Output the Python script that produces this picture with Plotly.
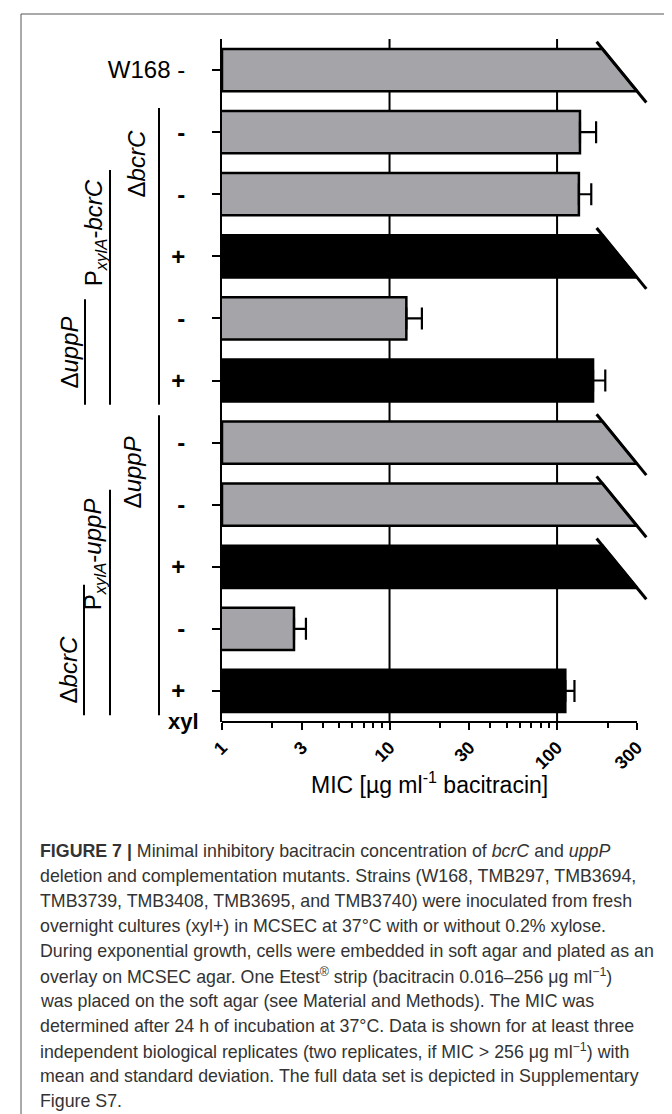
import numpy as np
import plotly.graph_objects as go

# ---------------- data ----------------
row_labels = ["W168 -", "<b>-</b>", "<b>-</b>", "<b>+</b>", "<b>-</b>", "<b>+</b>",
              "<b>-</b>", "<b>-</b>", "<b>+</b>", "<b>-</b>", "<b>+</b>"]
xylose = ["-", "-", "-", "+", "-", "+", "-", "-", "+", "-", "+"]
mic_mean = [300, 137, 135, 300, 12.6, 164, 300, 300, 300, 2.69, 112]   # 300 = axis cap (MIC > 256)
mic_sd = [0, 34, 25, 0, 3.0, 30, 0, 0, 0, 0.48, 15]
above_range = [True, False, False, True, False, False, True, True, True, False, False]
xtick_vals = [1, 3, 10, 30, 100, 300]
xtick_text = ["1", "3", "10", "30", "100", "300"]
minor_vals = [2, 4, 5, 6, 7, 8, 9, 20, 40, 50, 60, 70, 80, 90, 200]
grid_vals = [10, 100]

# genotype labels (text, first row, last row)
genotype_labels = [
    ("Δ<i>bcrC</i>", 1, 5),
    ("P<sub><i>xylA</i></sub>-<i>bcrC</i>", 2, 5),
    ("Δ<i>uppP</i>", 4, 5),
    ("Δ<i>uppP</i>", 6, 10),
    ("P<sub><i>xylA</i></sub>-<i>uppP</i>", 7, 10),
    ("Δ<i>bcrC</i>", 9, 10),
]

caption_lines = [
    "<b>FIGURE 7 |</b> Minimal inhibitory bacitracin concentration of <i>bcrC</i> and <i>uppP</i>",
    "deletion and complementation mutants. Strains (W168, TMB297, TMB3694,",
    "TMB3739, TMB3408, TMB3695, and TMB3740) were inoculated from fresh",
    "overnight cultures (xyl+) in MCSEC at 37°C with or without 0.2% xylose.",
    "During exponential growth, cells were embedded in soft agar and plated as an",
    "overlay on MCSEC agar. One Etest<sup>®</sup> strip (bacitracin 0.016–256 μg ml<sup>−1</sup>)",
    "was placed on the soft agar (see Material and Methods). The MIC was",
    "determined after 24 h of incubation at 37°C. Data is shown for at least three",
    "independent biological replicates (two replicates, if MIC > 256 μg ml<sup>−1</sup>) with",
    "mean and standard deviation. The full data set is depicted in Supplementary",
    "Figure S7.",
]

# ---------------- style / layout geometry ----------------
W, H = 672, 1114
PL, PR, PT, PB = 214, 645, 31, 714          # plot area in pixels
X300_PX = 629                               # pixel where the axis (x=300) ends
FONT = "Liberation Sans, Arial, sans-serif"
GRAY = "#a5a5a9"
BAR_W = 0.68
DIAG_DLOG = 0.206                            # log-width of the truncation diagonal
DIAG_T = (-0.17, 1.27)


def xp(px):
    return (px - PL) / (PR - PL)


def yp(py):
    return (PB - py) / (PB - PT)


x_range_max = np.log10(xtick_vals[-1]) * (PR - PL) / (X300_PX - PL)
n = len(mic_mean)
idx = list(range(n))
colors = [GRAY if x == "-" else "black" for x in xylose]

fig = go.Figure()

# normal bars with error bars
norm = [i for i in idx if not above_range[i]]
fig.add_trace(go.Bar(
    y=norm, x=[mic_mean[i] for i in norm], orientation="h", width=BAR_W,
    marker=dict(color=[colors[i] for i in norm], line=dict(color="black", width=2.5)),
    error_x=dict(type="data", symmetric=False, array=[mic_sd[i] for i in norm],
                 arrayminus=[0] * len(norm), color="black", thickness=2.2, width=11),
    hoverinfo="skip", showlegend=False,
))

# truncated bars (MIC above range)
hb = BAR_W / 2
for i in idx:
    if not above_range[i]:
        continue
    cap = mic_mean[i]
    x_top = 10 ** (np.log10(cap) - DIAG_DLOG)
    fig.add_trace(go.Scatter(
        x=[1, x_top, cap, 1, 1], y=[i - hb, i - hb, i + hb, i + hb, i - hb],
        mode="lines", fill="toself", fillcolor=colors[i],
        line=dict(color="black", width=2.5), hoverinfo="skip", showlegend=False,
    ))
    t = np.array(DIAG_T)
    fig.add_trace(go.Scatter(
        x=10 ** (np.log10(x_top) + t * DIAG_DLOG), y=(i - hb) + t * 2 * hb,
        mode="lines", line=dict(color="black", width=3),
        hoverinfo="skip", showlegend=False,
    ))

shapes = []
# vertical grid lines
for g in grid_vals:
    shapes.append(dict(type="line", xref="x", yref="paper", x0=g, x1=g, y0=0, y1=1,
                       line=dict(color="black", width=2), layer="below"))
# bottom axis line from 1 to 300
shapes.append(dict(type="line", xref="x", yref="paper", x0=xtick_vals[0], x1=xtick_vals[-1],
                   y0=0, y1=0, line=dict(color="black", width=2)))
# outer frame
shapes.append(dict(type="rect", xref="paper", yref="paper", x0=xp(13), x1=xp(670),
                   y0=yp(1130), y1=yp(6), line=dict(color="#555555", width=1)))

# genotype labels + underline brackets
label_x_px = [128, 87, 62, 124, 86, 60]
line_x_px = [151, 102, 77, 151, 102, 76]
line_pad = [(0.39, 0.39), (0.39, 0.39), (0.31, 0.39), (0.44, 0.39), (0.24, 0.39), (0.71, 0.39)]
label_rows = [1.52, 2.63, 4.55, 6.48, 7.8, 9.67]
annotations = []
for k, (txt, r0, r1) in enumerate(genotype_labels):
    shapes.append(dict(type="line", xref="paper", yref="y",
                       x0=xp(line_x_px[k]), x1=xp(line_x_px[k]),
                       y0=r0 - line_pad[k][0], y1=r1 + line_pad[k][1],
                       line=dict(color="black", width=2)))
    annotations.append(dict(text=txt, xref="paper", yref="y", x=xp(label_x_px[k]),
                            y=label_rows[k], textangle=-90, showarrow=False,
                            xanchor="center", yanchor="middle",
                            font=dict(family=FONT, size=24, color="black")))

# xyl label
annotations.append(dict(text="<b>xyl</b>", xref="paper", yref="paper", x=xp(193), y=yp(713),
                        xanchor="right", yanchor="middle", showarrow=False,
                        font=dict(family=FONT, size=22, color="black")))
# x axis title
annotations.append(dict(text="MIC [µg ml<sup>-1</sup> bacitracin]", xref="paper", yref="paper",
                        x=xp(421), y=yp(775), xanchor="center", yanchor="middle",
                        showarrow=False, font=dict(family=FONT, size=23, color="black")))
# caption
for k, line in enumerate(caption_lines):
    annotations.append(dict(text=line, xref="paper", yref="paper", x=xp(30),
                            y=yp(843 + 25 * k), xanchor="left", yanchor="middle",
                            showarrow=False, align="left",
                            font=dict(family=FONT, size=17.8, color="#333333")))

fig.update_layout(
    width=W, height=H,
    margin=dict(l=PL, r=W - PR, t=PT, b=H - PB, pad=0),
    paper_bgcolor="white", plot_bgcolor="white",
    showlegend=False, barmode="overlay",
    xaxis=dict(type="log", range=[0, x_range_max], showline=False, showgrid=False,
               zeroline=False, ticks="outside", ticklen=7, tickwidth=2, tickcolor="black",
               tickmode="array", tickvals=xtick_vals, ticktext=xtick_text, tickangle=-45,
               tickfont=dict(family=FONT, size=18, color="black", weight="bold"),
               minor=dict(tickmode="array", tickvals=minor_vals, ticks="outside", ticklen=5,
                          tickwidth=2, tickcolor="black", showgrid=False)),
    yaxis=dict(range=[n - 0.5, -0.5], showline=True, linecolor="black", linewidth=2,
               showgrid=False, zeroline=False, ticks="outside", ticklen=8, tickwidth=2,
               tickcolor="black", tickmode="array", tickvals=idx, ticktext=row_labels,
               ticklabelstandoff=22,
               tickfont=dict(family=FONT, size=24, color="black")),
    shapes=shapes, annotations=annotations,
)

fig.write_html("out.html")
